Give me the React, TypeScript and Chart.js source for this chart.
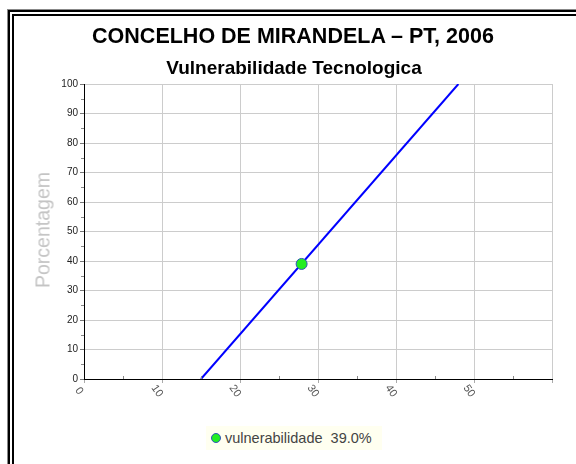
import React, { useEffect, useRef } from "react";
import { Chart, registerables } from "chart.js";

Chart.register(...registerables);

const mainTitle = "CONCELHO DE MIRANDELA – PT, 2006";
const subTitle = "Vulnerabilidade Tecnologica";
const yAxisTitle = "Porcentagem";
const seriesName = "vulnerabilidade";
const seriesValueLabel = "39.0%";

const lineX = [15, 48];
const lineY = [0, 100];
const pointX = [27.9];
const pointY = [39.0];

const xTicks = [0, 10, 20, 30, 40, 50];
const yTicks = [0, 10, 20, 30, 40, 50, 60, 70, 80, 90, 100];
const xMinorTicks = [5, 15, 25, 35, 45, 55];
const yMinorTicks = [5, 15, 25, 35, 45, 55, 65, 75, 85, 95];

const FONT = "'Liberation Sans', Arial, sans-serif";

const customAxisPlugin = {
  id: "customAxis",
  afterDraw(chart: any) {
    const ctx = chart.ctx;
    const xs = chart.scales.x;
    const ys = chart.scales.y;
    const area = chart.chartArea;
    ctx.save();
    ctx.strokeStyle = "#888";
    ctx.lineWidth = 1;
    yMinorTicks.forEach((v) => {
      const y = Math.round(ys.getPixelForValue(v)) + 0.5;
      ctx.beginPath();
      ctx.moveTo(area.left - 3, y);
      ctx.lineTo(area.left, y);
      ctx.stroke();
    });
    xMinorTicks.forEach((v) => {
      const x = Math.round(xs.getPixelForValue(v)) + 0.5;
      ctx.beginPath();
      ctx.moveTo(x, area.bottom - 3);
      ctx.lineTo(x, area.bottom);
      ctx.stroke();
    });
    ctx.fillStyle = "#555";
    ctx.font = `11px ${FONT}`;
    ctx.textAlign = "center";
    ctx.textBaseline = "middle";
    xTicks.forEach((v) => {
      const x = xs.getPixelForValue(v);
      ctx.save();
      ctx.translate(x - 5, area.bottom + 12);
      ctx.rotate((55 * Math.PI) / 180);
      ctx.fillText(String(v), 0, 0);
      ctx.restore();
    });
    ctx.restore();
  },
};

export default function App() {
  const canvasRef = useRef<HTMLCanvasElement | null>(null);

  useEffect(() => {
    if (!canvasRef.current) return;
    const chart = new Chart(canvasRef.current, {
      type: "scatter",
      data: {
        datasets: [
          {
            label: "point",
            data: pointX.map((x, i) => ({ x, y: pointY[i] })),
            backgroundColor: "#22ee22",
            borderColor: "#3355bb",
            borderWidth: 1,
            pointRadius: 5.5,
            showLine: false,
            order: 0,
          },
          {
            label: "line",
            data: lineX.map((x, i) => ({ x, y: lineY[i] })),
            borderColor: "#0000ff",
            borderWidth: 2,
            pointRadius: 0,
            showLine: true,
            fill: false,
            order: 1,
          },
        ],
      },
      options: {
        responsive: false,
        animation: false,
        layout: { padding: { left: 44, top: 84, right: 24, bottom: 55 } },
        plugins: {
          legend: { display: false },
          title: { display: false },
          tooltip: { enabled: false },
        },
        scales: {
          x: {
            type: "linear",
            min: 0,
            max: 60,
            afterFit: (s: any) => {
              s.height = 30;
            },
            afterBuildTicks: (s: any) => {
              s.ticks = [...xTicks, 60].map((v) => ({ value: v }));
            },
            ticks: { display: false, stepSize: 10 },
            grid: {
              color: "#cccccc",
              lineWidth: 1,
              drawTicks: true,
              tickLength: 4,
              tickColor: "#aaaaaa",
            },
            border: { display: true, color: "#000", width: 1 },
          },
          y: {
            type: "linear",
            min: 0,
            max: 100,
            afterFit: (s: any) => {
              s.width = 40;
            },
            afterBuildTicks: (s: any) => {
              s.ticks = yTicks.map((v) => ({ value: v }));
            },
            ticks: {
              stepSize: 10,
              color: "#222",
              font: { size: 10, family: FONT },
              padding: 2,
            },
            grid: {
              color: "#cccccc",
              lineWidth: 1,
              drawTicks: true,
              tickLength: 4,
              tickColor: "#777",
            },
            border: { display: true, color: "#000", width: 1 },
          },
        },
      },
      plugins: [customAxisPlugin],
    });
    return () => chart.destroy();
  }, []);

  return (
    <div
      style={{
        position: "fixed",
        left: 0,
        top: 0,
        width: 576,
        height: 464,
        background: "#fff",
        overflow: "hidden",
        fontFamily: FONT,
      }}
    >
      <div
        style={{
          position: "absolute",
          left: 7,
          top: 9,
          width: 600,
          height: 480,
          borderLeft: "1px solid #888",
          borderTop: "1px solid #888",
        }}
      />
      <div
        style={{
          position: "absolute",
          left: 8,
          top: 10,
          width: 600,
          height: 480,
          borderLeft: "6px double #000",
          borderTop: "6px double #000",
        }}
      />
      <canvas
        ref={canvasRef}
        width={576}
        height={464}
        style={{ position: "absolute", left: 0, top: 0 }}
      />
      <div
        style={{
          position: "absolute",
          left: 0,
          width: 586,
          top: 22,
          textAlign: "center",
          fontSize: 21.5,
          fontWeight: "bold",
          color: "#000",
          lineHeight: "28px",
        }}
      >
        {mainTitle}
      </div>
      <div
        style={{
          position: "absolute",
          left: 0,
          width: 588,
          top: 56,
          textAlign: "center",
          fontSize: 19,
          fontWeight: "bold",
          color: "#000",
          lineHeight: "24px",
        }}
      >
        {subTitle}
      </div>
      <div
        style={{
          position: "absolute",
          left: 43,
          top: 230,
          transform: "translate(-50%, -50%) rotate(-90deg)",
          fontSize: 19.5,
          color: "#c4c4c4",
          whiteSpace: "nowrap",
        }}
      >
        {yAxisTitle}
      </div>
      <div
        style={{
          position: "absolute",
          left: 206,
          top: 426,
          width: 176,
          height: 24,
          background: "#fffff0",
          display: "flex",
          alignItems: "center",
          fontSize: 14.5,
          color: "#444",
          whiteSpace: "pre",
        }}
      >
        <span
          style={{
            display: "inline-block",
            width: 8,
            height: 8,
            borderRadius: "50%",
            background: "#22ee22",
            border: "1px solid #3355bb",
            marginLeft: 5,
            marginRight: 4,
          }}
        />
        {seriesName + "  " + seriesValueLabel}
      </div>
    </div>
  );
}
